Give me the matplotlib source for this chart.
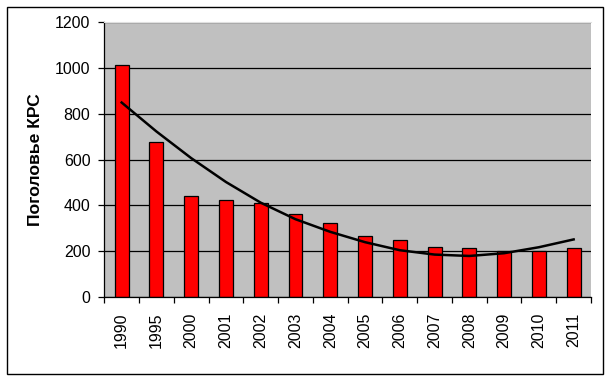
import numpy as np
import matplotlib
matplotlib.use("Agg")
import matplotlib.pyplot as plt
from matplotlib.patches import Rectangle

plt.rcParams['font.family'] = ['Liberation Sans', 'DejaVu Sans']

# Data
years = ['1990', '1995', '2000', '2001', '2002', '2003', '2004',
         '2005', '2006', '2007', '2008', '2009', '2010', '2011']
cattle = [1010, 678, 440, 422, 409, 361, 322, 265, 248, 217, 213, 200, 200, 213]
trend = [848, 722, 606, 502, 412, 340, 285, 240, 205, 186, 180, 192, 218, 252]
y_ticks = [0, 200, 400, 600, 800, 1000, 1200]

fig = plt.figure(figsize=(6.11, 3.81), dpi=100)
ax = fig.add_axes([0.1707, 0.2197, 0.7966, 0.7233])

x = np.arange(len(years))
ax.set_facecolor('#C0C0C0')
ax.bar(x, cattle, width=0.4, color='#FF0000', edgecolor='black', linewidth=0.9, zorder=2)
ax.plot(x, trend, color='black', linewidth=1.8, zorder=3)

ax.set_xlim(-0.5, len(years) - 0.5)
ax.set_ylim(0, 1200)
ax.set_yticks(y_ticks)
ax.yaxis.grid(True, color='black', linewidth=0.9)
ax.set_axisbelow(True)

ax.set_xticks(x)
ax.set_xticklabels(years, rotation=90)
ax.set_xticks(np.arange(-0.5, len(years)), minor=True)
ax.tick_params(axis='x', which='major', length=0, pad=11, labelsize=11.5)
ax.tick_params(axis='x', which='minor', length=4, direction='out', width=0.9)
ax.tick_params(axis='y', length=4, direction='out', width=0.9, pad=6, labelsize=11.5)

ax.spines['right'].set_visible(False)
ax.spines['top'].set_color('#E0E0E0')
ax.spines['left'].set_linewidth(0.9)
ax.spines['bottom'].set_linewidth(0.9)

ax.set_ylabel('Поголовье КРС', fontsize=12.6, fontweight='bold')
ax.yaxis.set_label_coords(-0.126, 0.5)

# outer chart border
fig.patches.append(Rectangle((7 / 611, 1 - 374 / 381), 596 / 611, 367 / 381,
                             transform=fig.transFigure, fill=False,
                             edgecolor='black', linewidth=1))

fig.savefig('out.png', dpi=100)
